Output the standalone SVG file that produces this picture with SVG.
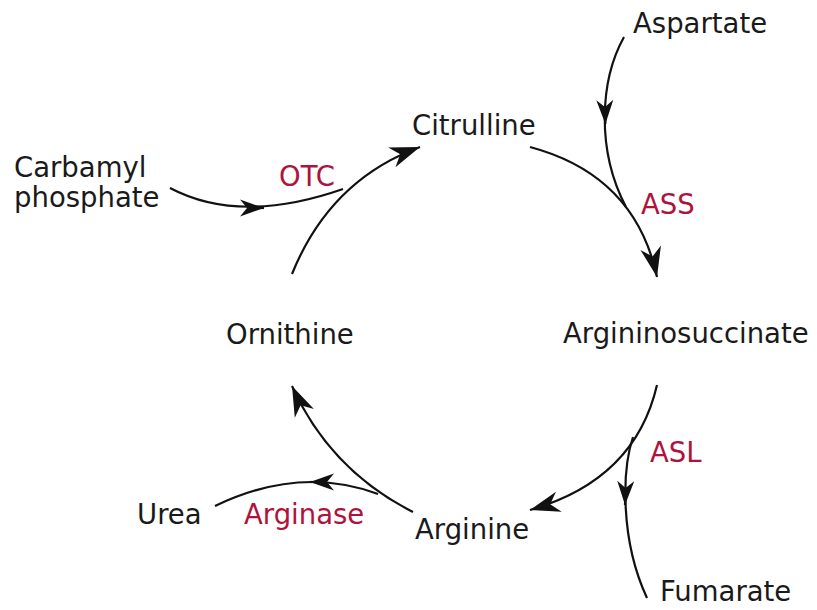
<svg xmlns="http://www.w3.org/2000/svg" width="817" height="610" viewBox="0 0 817 610">
<defs>
<marker id="ah" markerUnits="userSpaceOnUse" markerWidth="36" markerHeight="26" viewBox="-32 -13 34 26" refX="0" refY="0" orient="auto">
<path d="M0,0 L-30,-10.5 L-21,0 L-30,10.5 Z" fill="#111"/>
</marker>
<marker id="as" markerUnits="userSpaceOnUse" markerWidth="30" markerHeight="22" viewBox="-26 -11 28 22" refX="0" refY="0" orient="auto">
<path d="M0,0 L-24,-8.5 L-17,0 L-24,8.5 Z" fill="#111"/>
</marker>
</defs>
<style>
.t{font-family:"DejaVu Sans","Verdana",sans-serif;font-size:27.5px;fill:#1a1a1a}
.e{font-family:"DejaVu Sans","Verdana",sans-serif;font-size:27.5px;fill:#b0123c}
.c{fill:none;stroke:#111;stroke-width:2.2}
.a{fill:none;stroke:#111;stroke-width:2.2;marker-end:url(#ah)}
.m{fill:none;stroke:#111;stroke-width:2.2;marker-end:url(#as)}
</style>
<rect width="817" height="610" fill="#fff"/>
<g id="connectors">
<path class="a" d="M292,274 Q330,180 420,147"/>
<path class="c" d="M170,188 Q240,225 343,189"/>
<path class="m" d="M250,208 L264,208"/>
<path class="a" d="M530,147 Q635,175 657,277"/>
<path class="c" d="M624,37 C600,80 596,150 626,207"/>
<path class="m" d="M605,108 L605.4,124"/>
<path class="a" d="M657,385 Q635,480 530,510"/>
<path class="c" d="M633,437 C622,470 620,540 647,598"/>
<path class="m" d="M625.5,489 L625,505"/>
<path class="a" d="M413,512 Q330,470 292,386"/>
<path class="c" d="M378,494 Q300,465 215,506"/>
<path class="m" d="M325,482 L310,482"/>
</g>
<g id="aspartate"><text class="t" x="633" y="33">Aspartate</text></g>
<g id="citrulline"><text class="t" x="412" y="135">Citrulline</text></g>
<g id="carbamyl-phosphate"><text class="t" x="14" y="177">Carbamyl</text><text class="t" x="14" y="207">phosphate</text></g>
<g id="argininosuccinate"><text class="t" x="563" y="343">Argininosuccinate</text></g>
<g id="ornithine"><text class="t" x="226" y="344">Ornithine</text></g>
<g id="arginine"><text class="t" x="415" y="539">Arginine</text></g>
<g id="urea"><text class="t" x="137" y="524">Urea</text></g>
<g id="fumarate"><text class="t" x="660" y="601">Fumarate</text></g>
<g id="enzymes">
<text class="e" x="279" y="186">OTC</text>
<text class="e" x="641" y="214">ASS</text>
<text class="e" x="650" y="462">ASL</text>
<text class="e" x="244" y="524">Arginase</text>
</g>
</svg>
